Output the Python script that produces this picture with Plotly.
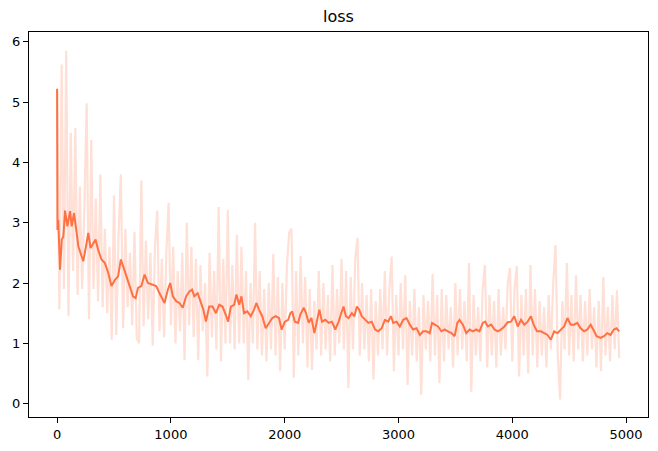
import plotly.graph_objects as go

raw_step = 20
raw_loss = [
    5.2, 1.56, 5.62, 1.9, 5.85, 1.45, 4.49, 2.2, 4.57, 1.8, 3.6,
    1.9, 3.3, 4.98, 1.4, 4.37, 1.9, 3.4, 1.7, 3.8, 1.6, 2.9, 1.5, 2.6, 1.06, 3.45,
    1.14, 2.8, 3.8, 1.25, 2.9, 1.6, 2.5, 1.3, 2.85, 1.09, 1.0, 3.7, 1.28, 2.7, 1.4,
    2.5, 0.96, 2.6, 3.2, 1.2, 2.4, 1.1, 2.5, 3.33, 1.3, 2.6, 1.0, 2.2, 1.2, 2.5,
    0.72, 3.0, 1.3, 2.6, 1.1, 2.4, 0.72, 2.3, 1.2, 2.0, 0.45, 2.5, 1.1, 2.2, 0.9,
    3.26, 0.7, 2.4, 1.0, 3.21, 1.0, 2.3, 0.9, 2.8, 1.0, 2.6, 1.0, 2.2, 0.39, 2.0,
    1.0, 3.0, 0.9, 2.2, 0.8, 1.9, 0.7, 2.0, 0.9, 2.48, 0.8, 2.1, 0.54, 2.0, 0.9,
    2.3, 2.84, 2.9, 0.43, 2.2, 0.8, 2.45, 1.0, 2.1, 0.6, 1.9, 0.56, 1.7, 0.9, 2.2,
    0.8, 2.0, 0.9, 1.8, 0.7, 2.3, 0.8, 1.9, 1.0, 2.4, 0.9, 2.2, 0.26, 2.1, 0.9,
    2.4, 2.75, 0.8, 2.0, 0.9, 1.8, 0.7, 1.9, 0.4, 1.7, 0.8, 1.9, 0.9, 2.2, 0.8,
    1.9, 2.44, 0.54, 1.8, 0.8, 2.0, 0.9, 2.13, 0.31, 1.7, 0.8, 1.9, 0.7, 1.6, 0.15,
    1.8, 0.9, 1.7, 0.7, 2.15, 0.8, 1.8, 0.34, 1.9, 0.7, 1.8, 0.9, 1.6, 0.6, 2.0,
    0.8, 1.9, 0.9, 1.7, 0.7, 2.33, 0.2, 1.8, 0.8, 1.6, 0.7, 1.9, 2.3, 0.6, 1.8,
    0.8, 1.7, 0.6, 1.9, 0.8, 1.6, 0.9, 2.0, 2.25, 0.7, 1.9, 2.28, 0.45, 1.8, 0.8,
    1.9, 0.5, 2.3, 0.8, 1.9, 0.6, 1.7, 0.8, 1.6, 0.6, 1.8, 0.9, 2.0, 2.63, 0.8,
    0.07, 1.7, 0.9, 2.33, 0.8, 1.8, 0.7, 2.13, 0.9, 1.8, 0.7, 1.7, 0.8, 1.9, 0.9,
    1.6, 0.6, 1.7, 0.54, 2.1, 0.8, 1.6, 0.7, 1.8, 0.9, 1.88, 0.76,
]
raw_steps = [i * raw_step for i in range(len(raw_loss))]

smooth_steps = [
    0, 3, 10, 26, 41, 55, 70, 90, 114, 128, 149, 166, 187, 216, 230, 254, 274,
    294, 318, 338, 361, 390, 420, 449, 478, 507, 536, 560, 580, 609, 638, 667,
    690, 711, 740, 769, 798, 842, 871, 900, 944, 973, 994, 1017, 1046, 1075,
    1104, 1134, 1163, 1186, 1206, 1235, 1265, 1285, 1308, 1337, 1366, 1396,
    1425, 1454, 1483, 1503, 1527, 1556, 1576, 1600, 1620, 1643, 1672, 1702,
    1731, 1751, 1774, 1803, 1833, 1862, 1891, 1920, 1950, 1973, 2002, 2031,
    2050, 2066, 2089, 2118, 2138, 2168, 2188, 2211, 2235, 2261, 2284, 2305,
    2328, 2357, 2386, 2415, 2445, 2474, 2497, 2517, 2538, 2561, 2590, 2613,
    2634, 2654, 2677, 2706, 2736, 2765, 2794, 2823, 2852, 2881, 2910, 2934,
    2954, 2983, 3012, 3042, 3071, 3100, 3129, 3159, 3188, 3217, 3246, 3275,
    3295, 3319, 3348, 3377, 3406, 3435, 3465, 3494, 3517, 3537, 3566, 3596,
    3625, 3654, 3683, 3712, 3741, 3762, 3785, 3815, 3844, 3873, 3902, 3931,
    3960, 3989, 4018, 4048, 4077, 4106, 4135, 4164, 4188, 4217, 4252, 4281,
    4310, 4339, 4368, 4397, 4427, 4456, 4485, 4514, 4543, 4572, 4601, 4631,
    4660, 4689, 4712, 4741, 4776, 4806, 4835, 4864, 4893, 4916, 4940,
]
smooth_loss = [
    5.22, 2.88, 3.05, 2.22, 2.72, 2.77, 3.2, 2.94, 3.19, 2.94, 3.16, 2.94, 2.61,
    2.44, 2.36, 2.61, 2.83, 2.58, 2.66, 2.72, 2.55, 2.39, 2.33, 2.17, 1.95,
    2.05, 2.11, 2.39, 2.28, 2.11, 1.95, 1.78, 1.75, 1.92, 1.95, 2.14, 2.0,
    1.97, 1.95, 1.83, 1.67, 1.89, 2.0, 1.78, 1.70, 1.67, 1.59, 1.78, 1.86,
    1.89, 1.78, 1.83, 1.67, 1.56, 1.36, 1.61, 1.61, 1.50, 1.64, 1.61, 1.47,
    1.36, 1.61, 1.64, 1.81, 1.64, 1.78, 1.50, 1.53, 1.45, 1.56, 1.67, 1.56,
    1.45, 1.25, 1.33, 1.42, 1.45, 1.42, 1.23, 1.36, 1.39, 1.50, 1.53, 1.36,
    1.34, 1.48, 1.59, 1.50, 1.34, 1.42, 1.17, 1.36, 1.56, 1.36, 1.39, 1.34,
    1.36, 1.23, 1.36, 1.50, 1.61, 1.45, 1.42, 1.50, 1.45, 1.61, 1.56, 1.45,
    1.39, 1.34, 1.36, 1.23, 1.20, 1.25, 1.39, 1.36, 1.45, 1.34, 1.36, 1.28,
    1.39, 1.42, 1.31, 1.23, 1.25, 1.14, 1.20, 1.20, 1.17, 1.34, 1.31, 1.28,
    1.20, 1.23, 1.20, 1.17, 1.12, 1.34, 1.39, 1.31, 1.17, 1.23, 1.20, 1.23,
    1.20, 1.34, 1.36, 1.28, 1.31, 1.23, 1.20, 1.23, 1.28, 1.35, 1.36, 1.45,
    1.28, 1.39, 1.31, 1.36, 1.45, 1.31, 1.20, 1.20, 1.17, 1.14, 1.06, 1.20,
    1.17, 1.23, 1.28, 1.42, 1.31, 1.31, 1.34, 1.25, 1.20, 1.23, 1.31, 1.23,
    1.12, 1.09, 1.12, 1.17, 1.14, 1.23, 1.25, 1.20,
]

x_ticks = [0, 1000, 2000, 3000, 4000, 5000]
y_ticks = [0, 1, 2, 3, 4, 5, 6]

fig = go.Figure()
fig.add_trace(go.Scatter(x=raw_steps, y=raw_loss, mode="lines",
                         line=dict(color="rgb(255,224,214)", width=2.2),
                         hoverinfo="skip", showlegend=False))
fig.add_trace(go.Scatter(x=smooth_steps, y=smooth_loss, mode="lines",
                         line=dict(color="rgb(255,112,67)", width=2),
                         showlegend=False))

axis_common = dict(showline=True, linecolor="black", linewidth=1, mirror=True,
                   ticks="outside", ticklen=5, tickcolor="black", showgrid=False,
                   zeroline=False, automargin=False,
                   tickfont=dict(family="DejaVu Sans", size=13, color="black"))
fig.update_layout(
    width=658, height=451,
    margin=dict(l=29, r=10, t=32, b=34, autoexpand=False),
    paper_bgcolor="white", plot_bgcolor="white",
    title=dict(text="loss", x=(29 + 648) / 2 / 658, xanchor="center", y=1 - 16 / 451,
               yanchor="middle", font=dict(family="DejaVu Sans", size=16, color="black")),
    xaxis=dict(range=[-247, 5193], tickvals=x_ticks, ticktext=[str(v) for v in x_ticks], **axis_common),
    yaxis=dict(range=[-0.22, 6.16], tickvals=y_ticks, ticktext=[str(v) for v in y_ticks], **axis_common),
)
fig.write_html("out.html", config={"displayModeBar": False},
               post_script="document.body.style.margin='0';document.body.style.overflow='hidden';")
